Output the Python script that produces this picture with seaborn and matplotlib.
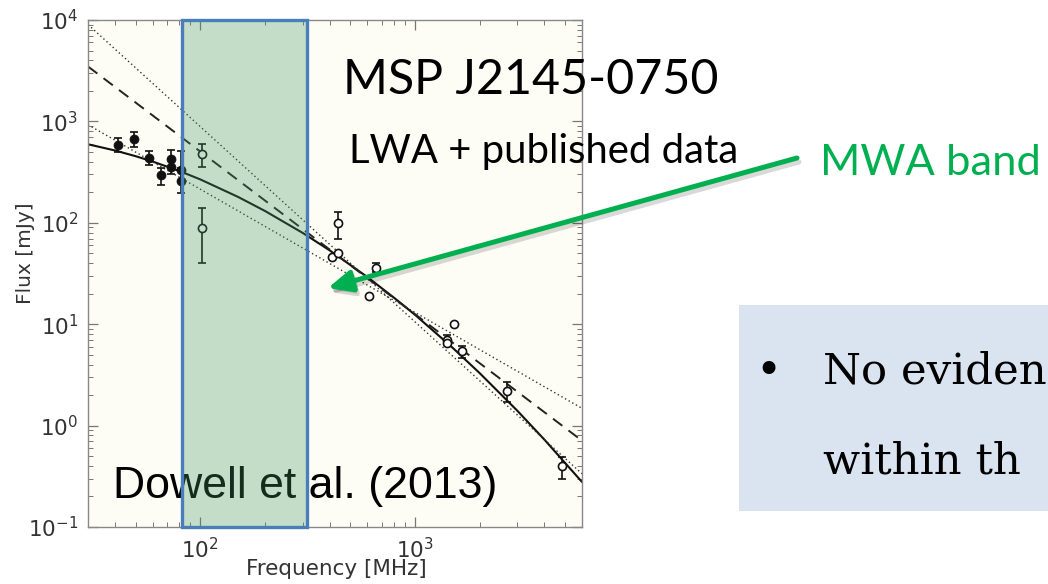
import numpy as np
import pandas as pd
import matplotlib
matplotlib.use("Agg")
import matplotlib.pyplot as plt
import seaborn as sns
from matplotlib.patches import FancyArrowPatch, Rectangle

# ---------------- data ----------------
# LWA measurements (filled circles), MHz / mJy
lwa_freq = [41.2, 49.3, 57.5, 65.3, 73.2, 73.2, 81.0, 81.0]
lwa_flux = [585, 665, 438, 296, 423, 357, 332, 260]
lwa_low = [500, 560, 372, 236, 350, 300, 260, 198]
lwa_high = [687, 785, 511, 344, 523, 430, 514, 350]

# published measurements (open circles); nan = no error bar visible
pub_freq = [102, 102, 410, 436, 436, 609, 661, 1404, 1410, 1517, 1660, 2686, 4840]
pub_flux = [477, 89.6, 46, 50, 100, 19, 36, 7.0, 6.5, 10, 5.4, 2.2, 0.40]
pub_low = [357, 40, np.nan, np.nan, 70, np.nan, 33, 6.3, np.nan, np.nan, 4.6, 1.72, 0.30]
pub_high = [598, 140, np.nan, np.nan, 129, np.nan, 39.8, 7.8, np.nan, np.nan, 6.1, 2.67, 0.49]

# model curves
curve_freq = [30, 40, 50, 60, 80, 100, 150, 200, 300, 400, 600, 800, 1000,
              1500, 2000, 3000, 4000, 6000]
curved_flux = [595, 517, 454, 402, 324, 268, 180, 131, 79.5, 53.6, 29.2, 18.2,
               12.4, 5.84, 3.30, 1.40, 0.731, 0.278]
line_freq = [30, 6000]
dashed_flux = [3480, 0.71]
dotted_steep_flux = [9020, 0.335]
dotted_shallow_flux = [927, 1.48]

mwa_band = [82, 315]

x_limits = [30, 6000]
y_limits = [0.1, 1e4]

# ---------------- figure ----------------
sns.set_theme(style="ticks")
plt.rcParams["font.family"] = ["DejaVu Sans"]
plt.rcParams["mathtext.fontset"] = "dejavusans"

W, H = 1048, 584
fig = plt.figure(figsize=(W / 100, H / 100), dpi=100, facecolor="white")
ax = fig.add_axes([88 / W, (H - 527) / H, (582 - 88) / W, (527 - 20) / H])
ax.set_xscale("log")
ax.set_yscale("log")
ax.set_facecolor("#FDFDF5")

sns.lineplot(x=curve_freq, y=curved_flux, color="#111111", lw=1.5, ax=ax, zorder=2)
sns.lineplot(x=line_freq, y=dashed_flux, color="#222222", lw=1.4,
             linestyle=(0, (6, 4)), ax=ax, zorder=2)
sns.lineplot(x=line_freq, y=dotted_steep_flux, color="#333333", lw=1.0,
             linestyle=(0, (1, 2)), ax=ax, zorder=2)
sns.lineplot(x=line_freq, y=dotted_shallow_flux, color="#333333", lw=1.0,
             linestyle=(0, (1, 2)), ax=ax, zorder=2)

# error bars
lf = np.array(lwa_freq); ly = np.array(lwa_flux)
ax.errorbar(lf, ly, yerr=[ly - np.array(lwa_low), np.array(lwa_high) - ly],
            fmt="none", ecolor="#111111", elinewidth=1.2, capsize=3, capthick=1.2, zorder=3)
pf = np.array(pub_freq); py = np.array(pub_flux)
pl = np.array(pub_low); ph = np.array(pub_high)
m = ~np.isnan(pl)
ax.errorbar(pf[m], py[m], yerr=[py[m] - pl[m], ph[m] - py[m]],
            fmt="none", ecolor="#111111", elinewidth=1.2, capsize=3, capthick=1.2, zorder=3)

sns.scatterplot(x=lwa_freq, y=lwa_flux, color="#111111", edgecolor="#111111",
                s=42, marker="o", ax=ax, zorder=4)
sns.scatterplot(x=pub_freq, y=pub_flux, color="white", edgecolor="#111111",
                linewidth=1.2, s=34, marker="o", ax=ax, zorder=4)

ax.set_xlim(*x_limits)
ax.set_ylim(*y_limits)

# MWA band overlay
ax.axvspan(mwa_band[0], mwa_band[1], facecolor=(0.26, 0.59, 0.39, 0.30),
           edgecolor="#4A7EBB", lw=2.4, zorder=6, clip_on=False)

# axes styling
for sp in ax.spines.values():
    sp.set_color("#888888")
    sp.set_linewidth(1.0)
    sp.set_visible(True)
ax.tick_params(which="both", direction="in", top=True, right=True,
               color="#777777", labelcolor="#333333")
ax.tick_params(which="major", length=7, width=0.9, labelsize=15.5, pad=7)
ax.tick_params(which="minor", length=3.5, width=0.7)
ax.set_xlabel("Frequency [MHz]", fontsize=15.5, color="#333333")
ax.set_ylabel("Flux [mJy]", fontsize=14.5, color="#333333")
ax.xaxis.set_label_coords(0.503, -0.064)
ax.yaxis.set_label_coords(-0.107, 0.54)

renderer = fig.canvas.get_renderer()


def fit_text(target, s, x0, x1, base, family, color, size0=30, **kw):
    t = target.text(x0 / W, 1 - base / H, s, fontsize=size0, family=family,
                    color=color, ha="left", va="baseline",
                    transform=fig.transFigure, **kw)
    w = t.get_window_extent(renderer=renderer).width
    t.set_fontsize(size0 * (x1 - x0) / w)
    return t


fit_text(fig, "MSP J2145-0750", 343, 718, 93.5, ["Lato", "DejaVu Sans"], "black")
fit_text(fig, "LWA + published data", 349, 737, 163, ["Lato", "DejaVu Sans"], "black")
fit_text(fig, "MWA band", 820, 1040, 175, ["Lato", "DejaVu Sans"], "#00B050")
fit_text(ax, "Dowell et al. (2013)", 113, 497, 497.7, ["Liberation Sans", "DejaVu Sans"],
         "black", zorder=5, clip_on=False)

# green arrow with light shadow
shadow = FancyArrowPatch(posA=(799 / W, 1 - 162 / H), posB=(330 / W, 1 - 292 / H),
                         transform=fig.transFigure, arrowstyle="-|>,head_length=1.1,head_width=0.5",
                         mutation_scale=13, color="#000000", alpha=0.15, lw=3.6,
                         shrinkA=0, shrinkB=0)
fig.add_artist(shadow)
arrow = FancyArrowPatch(posA=(797 / W, 1 - 158 / H), posB=(328 / W, 1 - 288 / H),
                        transform=fig.transFigure, arrowstyle="-|>,head_length=1.1,head_width=0.5",
                        mutation_scale=13, color="#00B050", lw=3.6,
                        shrinkA=0, shrinkB=0)
fig.add_artist(arrow)

# blue text box on the right
box = Rectangle((739 / W, (H - 510.7) / H), (W - 739) / W, (510.7 - 305) / H,
                transform=fig.transFigure, facecolor="#DAE3F0", edgecolor="none")
fig.add_artist(box)
fig.text(768 / W, 1 - 384 / H, "\u2022", fontsize=32, family="DejaVu Serif",
         ha="center", va="baseline", color="black")
fig.text(823 / W, 1 - 384 / H, "No eviden", fontsize=31.3, family="DejaVu Serif",
         ha="left", va="baseline", color="black")
fig.text(823 / W, 1 - 473 / H, "within th", fontsize=31.3, family="DejaVu Serif",
         ha="left", va="baseline", color="black")

fig.savefig("out.png", dpi=100, facecolor="white")
